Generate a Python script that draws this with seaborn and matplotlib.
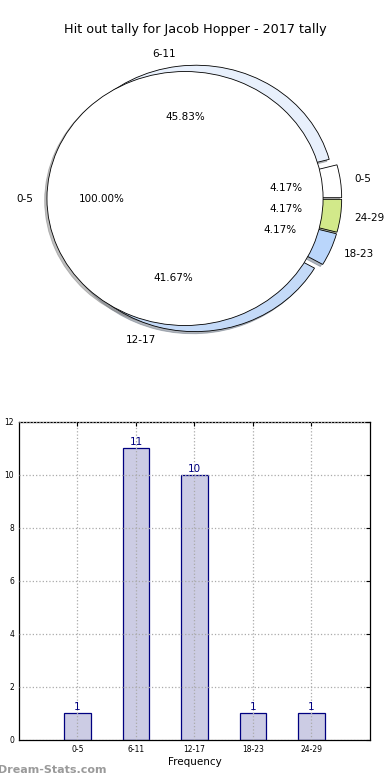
import seaborn as sns
import matplotlib.pyplot as plt
import pandas as pd
import numpy as np

sns.set_style("white")
plt.rcParams['font.family'] = ['DejaVu Sans']
plt.rcParams['text.color'] = 'black'
plt.rcParams['axes.labelcolor'] = 'black'
plt.rcParams['xtick.color'] = 'black'
plt.rcParams['ytick.color'] = 'black'

# Data
categories = ["0-5", "6-11", "12-17", "18-23", "24-29"]
counts = [1, 11, 10, 1, 1]
ring_colors = ["#ffffff", "#e8f0fc", "#c4daf8", "#bad6fb", "#d2e98a"]
inner_labels = ["0-5"]
inner_values = [1]

df = pd.DataFrame({"Range": categories, "Count": counts})

fig = plt.figure(figsize=(3.9, 7.8), dpi=100)

# ---- pie (outer ring + inner disc) ----
shadow = dict(ox=-0.012, oy=-0.012, shade=0.5)
ax1 = fig.add_axes([0.062, 0.542, 0.885, 0.407])
ax1.pie(df["Count"], labels=df["Range"], colors=ring_colors, autopct="%.2f%%",
        explode=[0.05] * len(categories), startangle=0, shadow=shadow,
        pctdistance=0.6, labeldistance=1.1,
        wedgeprops=dict(edgecolor="black", linewidth=0.6),
        textprops=dict(fontsize=7.5))
ax1.pie(inner_values, labels=inner_labels, colors=["white"], autopct="%.2f%%",
        explode=[0.085], startangle=0, shadow=shadow,
        pctdistance=0.6, labeldistance=1.1,
        wedgeprops=dict(edgecolor="black", linewidth=0.6),
        textprops=dict(fontsize=7.5))
ax1.set_aspect("auto")
ax1.set_xlim(-1.25, 1.25)
ax1.set_ylim(-1.25, 1.25)
fig.text(0.5, 0.962, "Hit out tally for Jacob Hopper - 2017 tally",
         ha="center", va="center", fontsize=9.2)

# ---- bar chart ----
ax2 = fig.add_axes([0.0487, 0.0513, 0.9, 0.4077])
sns.barplot(data=df, x="Range", y="Count", ax=ax2, width=0.45,
            color="#ccccE4", edgecolor="navy", linewidth=0.9, saturation=1)
for p, v in zip(ax2.patches, counts):
    ax2.annotate(str(v), (p.get_x() + p.get_width() / 2., p.get_height()),
                 ha="center", va="bottom", xytext=(0, 1),
                 textcoords="offset points", fontsize=7.5, color="navy")
ax2.set_xlim(-1, 5)
ax2.set_ylim(0, 12)
ax2.set_yticks(range(0, 13, 2))
ax2.tick_params(axis="both", labelsize=5.5, length=3, direction="in",
                top=True, right=True)
ax2.grid(True, linestyle=":", color="#aaaaaa", linewidth=0.9)
ax2.set_axisbelow(False)
for s in ax2.spines.values():
    s.set_color("black")
    s.set_linewidth(0.9)
ax2.set_xlabel("Frequency", fontsize=7.5, labelpad=2)
ax2.set_ylabel("Stat Interval", fontsize=7.5)
ax2.yaxis.set_label_coords(-0.062, 0.5)

fig.text(-0.004, 0.013, "Dream-Stats.com", color="#9a9a9a", fontsize=8,
         fontweight="bold", ha="left", va="center")

plt.savefig("out.png", dpi=100)
plt.close()
